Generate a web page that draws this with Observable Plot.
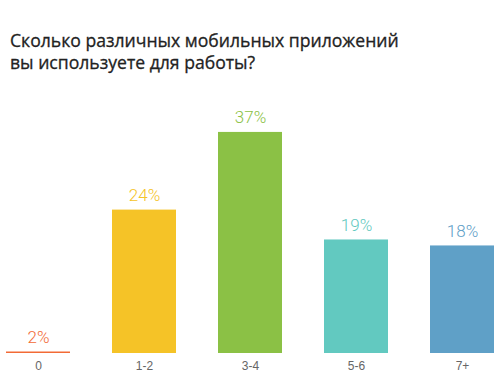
<!DOCTYPE html>
<html>
<head>
<meta charset="utf-8">
<script src="https://cdn.jsdelivr.net/npm/d3@7"></script>
<script src="https://cdn.jsdelivr.net/npm/@observablehq/plot@0.6"></script>
<style>
  html, body { margin: 0; padding: 0; background: #fff; }
  #wrap { width: 500px; height: 381px; overflow: hidden; }
  #title {
    box-sizing: border-box; height: 90px; padding: 29px 0 0 10px;
    font-family: "Open Sans", sans-serif; font-weight: 400; font-size: 17.6px;
    line-height: 22px; color: #222; -webkit-text-stroke: 0.3px #222;
  }
</style>
</head>
<body>
<div id="wrap">
  <div id="title">Сколько различных мобильных приложений<br>вы используете для работы?</div>
  <div id="chart"></div>
</div>
<script>
const categories = ["0", "1-2", "3-4", "5-6", "7+"];
const barValues = [0.25, 24, 37, 19, 18];
const valueLabels = ["2%", "24%", "37%", "19%", "18%"];
const colors = ["#f26a36", "#f5c327", "#8bc145", "#62c9c0", "#5fa0c7"];

const data = categories.map((c, i) => ({cat: c, v: barValues[i], label: valueLabels[i], color: colors[i]}));

const chart = Plot.plot({
  width: 500,
  height: 291,
  marginLeft: 6,
  marginRight: 6,
  marginTop: 24,
  marginBottom: 28,
  style: {fontFamily: "'Liberation Sans', Arial, sans-serif", background: "#fff"},
  x: {domain: categories, paddingInner: 0.4, paddingOuter: 0, label: null},
  y: {domain: [0, 40], axis: null},
  marks: [
    Plot.barY(data, {x: "cat", y: "v", fill: "color"}),
    Plot.text(data, {x: "cat", y: "v", text: "label", fill: "color", lineAnchor: "bottom", dy: -9,
      fontSize: 17, fontFamily: "Roboto", fontWeight: 300}),
    Plot.axisX({tickSize: 0, tickPadding: 8, fontSize: 12, color: "#666", label: null})
  ]
});
document.getElementById("chart").appendChild(chart);
</script>
</body>
</html>
